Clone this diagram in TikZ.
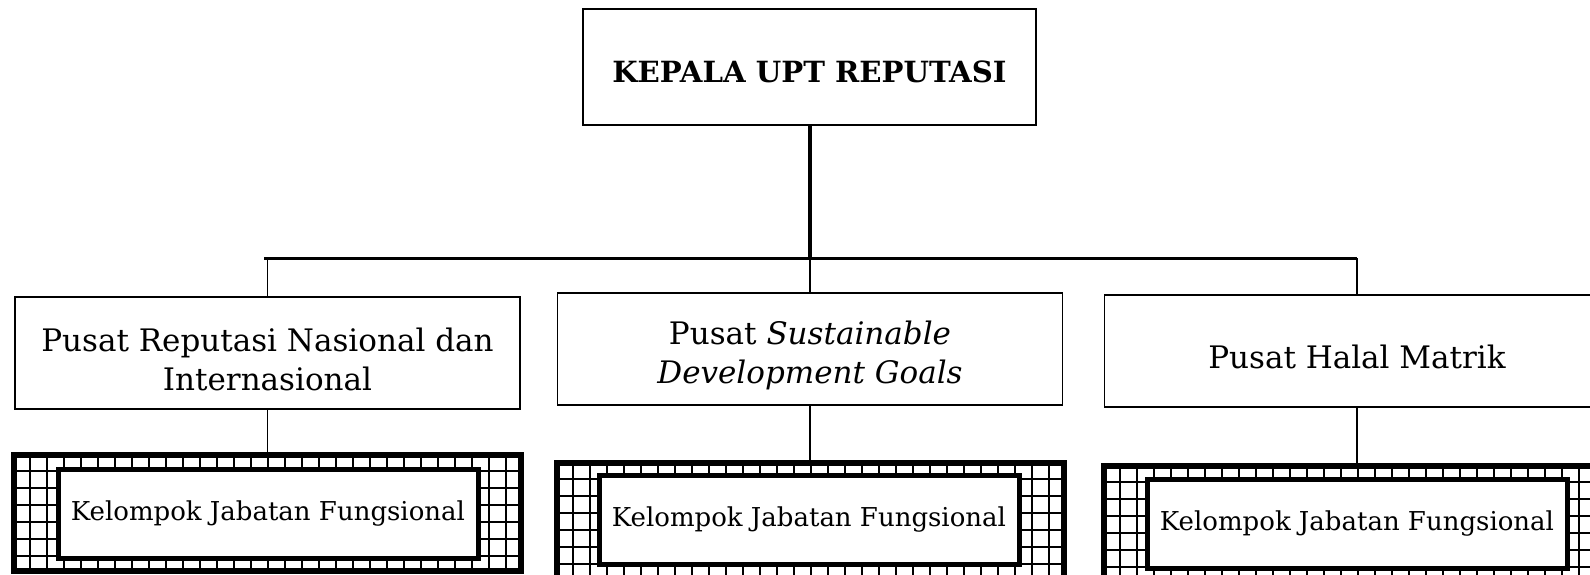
\documentclass[tikz,border=0pt]{standalone}
\usepackage{fontspec}
\setmainfont{DejaVu Serif}
\usepackage{tikz}

\newcommand\kelgrid[1]{%
  \begin{scope}
    \clip (#1.south west) rectangle (#1.north east);
    \foreach \k in {0,...,31}
      \draw[grid line] (#1.north west) ++(\k*17,0) -- ++(0,130);
    \foreach \k in {0,...,7}
      \draw[grid line] (#1.north west) ++(0,\k*17) -- ++(530,0);
  \end{scope}}

\begin{document}
\begin{tikzpicture}[x=0.5pt, y=-0.5pt,
        head node/.style={draw, line width=1pt, minimum width=226.5pt, minimum height=58pt,
            inner sep=0pt, text height=15.5pt, font=\fontsize{14.6}{17}\selectfont\bfseries},
        unit node/.style={draw, line width=0.8pt, minimum width=252.5pt, minimum height=56pt,
            inner sep=0pt, align=center, font=\fontsize{15.5}{19.5}\selectfont},
        one line/.style={text height=17.5pt},
        two lines/.style={text height=37.3pt},
        group frame/.style={draw, line width=2pt, fill=white, minimum width=252.5pt,
            minimum height=57pt, inner sep=0pt},
        group node/.style={draw, line width=2.5pt, fill=white, minimum width=210pt,
            minimum height=44.5pt, inner sep=0pt, font=\fontsize{13}{16}\selectfont},
        grid line/.style={line width=1pt},
        link/.style={line width=0.75pt},
    ]

    \clip (0,0) rectangle (1590,574);

    \node[head node] (kepala) at (809.5,67) {KEPALA UPT REPUTASI};

    \node[unit node, two lines] (pusat1) at (267.5,353) {Pusat Reputasi Nasional dan\\Internasional};
    \node[unit node, two lines] (pusat2) at (810,349) {Pusat \textit{Sustainable}\\\textit{Development Goals}};
    \node[unit node, one line] (pusat3) at (1357,351) {Pusat Halal Matrik};

    \node[group frame] (frame1) at (267.5,513) {};
    \node[group frame] (frame2) at (810,521) {};
    \node[group frame] (frame3) at (1357,524) {};
    \kelgrid{frame1}
    \kelgrid{frame2}
    \kelgrid{frame3}
    \draw[line width=2pt] (frame1.south west) rectangle (frame1.north east);
    \draw[line width=2pt] (frame2.south west) rectangle (frame2.north east);
    \draw[line width=2pt] (frame3.south west) rectangle (frame3.north east);

    \node[group node] (kel1) at (268,513.5) {Kelompok Jabatan Fungsional};
    \node[group node] (kel2) at (809,520) {Kelompok Jabatan Fungsional};
    \node[group node] (kel3) at (1357,524) {Kelompok Jabatan Fungsional};

    \coordinate (bus west) at (264,258);
    \coordinate (bus east) at (1357,258);

    \draw[line width=2pt] (kepala.south) -- (kepala.south |- bus west);
    \draw[line width=1.5pt] (bus west) -- (bus east);
    \draw[link] (pusat1.north |- bus west) -- (pusat1.north);
    \draw[link] (pusat2.north |- bus west) -- (pusat2.north);
    \draw[link] (bus east) -- (pusat3.north);
    \draw[link] (pusat1) -- (frame1);
    \draw[link] (pusat2) -- (frame2);
    \draw[link] (pusat3) -- (frame3);
\end{tikzpicture}
\end{document}
